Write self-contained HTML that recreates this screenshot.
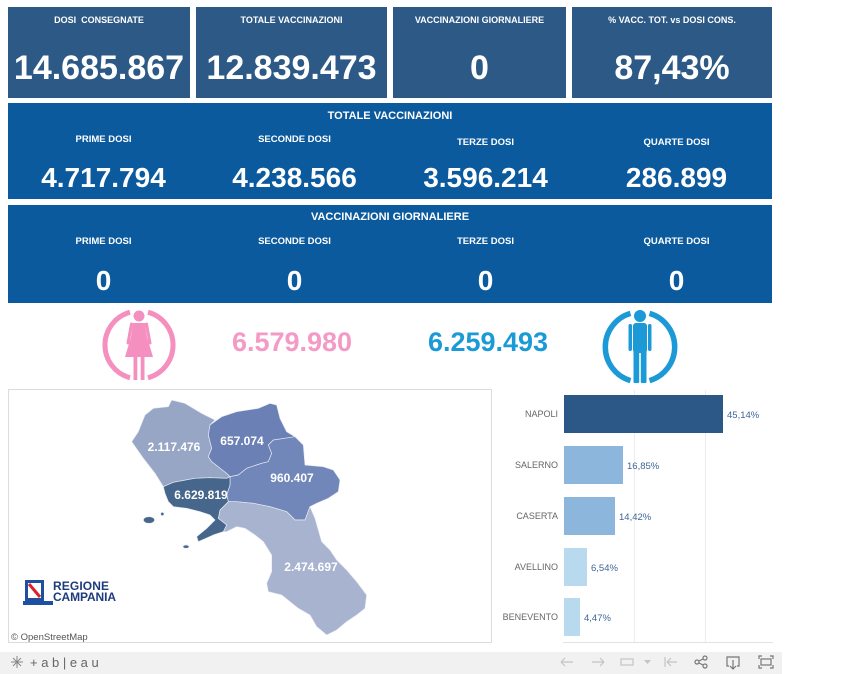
<!DOCTYPE html>
<html><head><meta charset="utf-8">
<style>
*{margin:0;padding:0;box-sizing:border-box}
body{width:845px;height:674px;background:#fff;position:relative;overflow:hidden;font-family:"Liberation Sans",Arial,sans-serif}
.t{position:absolute;background:#2d5987}
.s{position:absolute;background:#0c5a9e}
.tx{position:absolute;color:#fff;font-weight:bold;text-align:center;white-space:nowrap}
svg{position:absolute;left:0;top:0}
</style></head><body>

<div class="t" style="left:8px;top:7px;width:182px;height:91px"></div>
<div class="t" style="left:196px;top:7px;width:191px;height:91px"></div>
<div class="t" style="left:393px;top:7px;width:173px;height:91px"></div>
<div class="t" style="left:572px;top:7px;width:200px;height:91px"></div>

<div class="tx" style="left:8px;width:182px;top:14px;line-height:13px;font-size:9px">DOSI&nbsp;&nbsp;CONSEGNATE</div>
<div class="tx" style="left:196px;width:191px;top:14px;line-height:13px;font-size:9px">TOTALE VACCINAZIONI</div>
<div class="tx" style="left:393px;width:173px;top:14px;line-height:13px;font-size:9px">VACCINAZIONI GIORNALIERE</div>
<div class="tx" style="left:572px;width:200px;top:14px;line-height:13px;font-size:9px">% VACC. TOT. vs DOSI CONS.</div>

<div class="tx" style="left:0px;width:198px;top:48px;line-height:40px;font-size:34px">14.685.867</div>
<div class="tx" style="left:196px;width:191px;top:48px;line-height:40px;font-size:34px">12.839.473</div>
<div class="tx" style="left:393px;width:173px;top:48px;line-height:40px;font-size:34px">0</div>
<div class="tx" style="left:572px;width:200px;top:48px;line-height:40px;font-size:34px">87,43%</div>

<div class="s" style="left:8px;top:103px;width:764px;height:96px"></div>
<div class="tx" style="left:8px;width:764px;top:109px;line-height:14px;font-size:11px">TOTALE VACCINAZIONI</div>
<div class="tx" style="left:8px;width:191px;top:133px;line-height:14px;font-size:9.5px">PRIME DOSI</div>
<div class="tx" style="left:199px;width:191px;top:133px;line-height:14px;font-size:9.5px">SECONDE DOSI</div>
<div class="tx" style="left:390px;width:191px;top:136px;line-height:14px;font-size:9.5px">TERZE DOSI</div>
<div class="tx" style="left:581px;width:191px;top:136px;line-height:14px;font-size:9.5px">QUARTE DOSI</div>
<div class="tx" style="left:8px;width:191px;top:161px;line-height:34px;font-size:28px">4.717.794</div>
<div class="tx" style="left:199px;width:191px;top:161px;line-height:34px;font-size:28px">4.238.566</div>
<div class="tx" style="left:390px;width:191px;top:161px;line-height:34px;font-size:28px">3.596.214</div>
<div class="tx" style="left:581px;width:191px;top:161px;line-height:34px;font-size:28px">286.899</div>

<div class="s" style="left:8px;top:205px;width:764px;height:98px"></div>
<div class="tx" style="left:8px;width:764px;top:210px;line-height:14px;font-size:11px">VACCINAZIONI GIORNALIERE</div>
<div class="tx" style="left:8px;width:191px;top:235px;line-height:14px;font-size:9.5px">PRIME DOSI</div>
<div class="tx" style="left:199px;width:191px;top:235px;line-height:14px;font-size:9.5px">SECONDE DOSI</div>
<div class="tx" style="left:390px;width:191px;top:235px;line-height:14px;font-size:9.5px">TERZE DOSI</div>
<div class="tx" style="left:581px;width:191px;top:235px;line-height:14px;font-size:9.5px">QUARTE DOSI</div>
<div class="tx" style="left:8px;width:191px;top:264px;line-height:34px;font-size:28px">0</div>
<div class="tx" style="left:199px;width:191px;top:264px;line-height:34px;font-size:28px">0</div>
<div class="tx" style="left:390px;width:191px;top:264px;line-height:34px;font-size:28px">0</div>
<div class="tx" style="left:581px;width:191px;top:264px;line-height:34px;font-size:28px">0</div>

<div class="tx" style="left:192px;width:200px;top:326px;line-height:32px;font-size:27px;color:#f49ac6">6.579.980</div>
<div class="tx" style="left:388px;width:200px;top:326px;line-height:32px;font-size:27px;color:#1a9ad6">6.259.493</div>

<svg width="845" height="674" viewBox="0 0 845 674" xmlns="http://www.w3.org/2000/svg">
  <!-- female icon -->
  <g transform="translate(139,345)" fill="#f48fc0">
    <path d="M-9,-32.8 A34,34 0 0 0 -9,32.8" fill="none" stroke="#f48fc0" stroke-width="5"/>
    <path d="M9,-32.8 A34,34 0 0 1 9,32.8" fill="none" stroke="#f48fc0" stroke-width="5"/>
    <circle cx="0" cy="-29" r="5.5"/>
    <path d="M-6,-22 L6,-22 L8,-8 L14,12 L-14,12 L-8,-8 Z"/>
    <path d="M-7.5,-21 L-11,-2" stroke="#f48fc0" stroke-width="3" stroke-linecap="round"/>
    <path d="M7.5,-21 L11,-2" stroke="#f48fc0" stroke-width="3" stroke-linecap="round"/>
    <rect x="-5.5" y="11" width="3.8" height="24"/>
    <rect x="1.7" y="11" width="3.8" height="24"/>
  </g>
  <!-- male icon -->
  <g transform="translate(640,347)" fill="#1b9ad7">
    <path d="M-9.5,-33.6 A35,35 0 0 0 -9.5,33.6" fill="none" stroke="#1b9ad7" stroke-width="5.5"/>
    <path d="M9.5,-33.6 A35,35 0 0 1 9.5,33.6" fill="none" stroke="#1b9ad7" stroke-width="5.5"/>
    <circle cx="0" cy="-31" r="6"/>
    <rect x="-7" y="-24" width="14" height="30" rx="3"/>
    <rect x="-11.5" y="-23" width="3.5" height="27" rx="1.7"/>
    <rect x="8" y="-23" width="3.5" height="27" rx="1.7"/>
    <rect x="-6.5" y="4" width="5.7" height="32" rx="1"/>
    <rect x="0.8" y="4" width="5.7" height="32" rx="1"/>
  </g>

  <!-- map panel -->
  <rect x="8.5" y="389.5" width="483" height="253" fill="#fff" stroke="#dcdcdc"/>
  <g transform="translate(130,395) scale(0.33333)" stroke="#e8ecf3" stroke-width="2" stroke-linejoin="round">
    <polygon fill="#98a6c6" points="45,60 70,40 115,35 125,15 165,25 215,55 255,75 240,90 235,120 245,160 235,185 245,200 290,235 300,245 290,250 240,248 195,250 130,262 100,275 75,235 40,190 5,140 25,110"/>
    <polygon fill="#6b80b5" points="240,90 275,65 320,50 385,40 420,25 440,30 450,70 470,110 495,125 470,135 430,135 415,150 425,175 415,200 395,205 350,220 325,240 300,245 290,235 245,200 235,185 245,160 235,120"/>
    <polygon fill="#7186b9" points="430,135 495,125 520,150 525,210 580,215 610,225 630,255 625,290 595,310 560,325 540,335 525,375 495,375 470,350 420,335 370,325 320,320 295,320 290,300 300,270 300,245 325,240 350,220 395,205 415,200 425,175 415,150"/>
    <polygon fill="#a8b3d0" points="295,320 320,320 370,325 420,335 470,350 495,375 525,375 540,335 555,370 575,440 600,465 620,495 650,525 680,560 710,600 705,640 680,660 650,680 620,705 590,720 560,695 540,660 505,640 455,600 415,590 410,565 425,530 425,480 400,440 375,420 345,400 320,395 290,410 280,410 290,390 265,370 270,345 285,330"/>
    <polygon fill="#46668c" points="100,275 130,262 195,250 240,248 290,250 300,245 300,270 290,300 295,320 285,330 270,345 265,370 290,390 280,410 250,420 205,440 200,425 230,400 255,375 240,360 210,350 170,340 130,335 115,320 105,295"/>
    <ellipse cx="57" cy="375" rx="17" ry="10" fill="#46668c"/>
    <circle cx="97" cy="357" r="5" fill="#46668c"/>
    <ellipse cx="168" cy="455" rx="9" ry="5" fill="#46668c"/>
  </g>
  <g font-family="Liberation Sans, Arial, sans-serif" font-weight="bold" font-size="12" fill="#fff" text-anchor="middle">
    <text x="174" y="451">2.117.476</text>
    <text x="242" y="445">657.074</text>
    <text x="292" y="482">960.407</text>
    <text x="201" y="499">6.629.819</text>
    <text x="311" y="571">2.474.697</text>
  </g>
  <!-- logo -->
  <rect x="25" y="580" width="19" height="21" fill="#1f4fa0"/>
  <rect x="28" y="583" width="13" height="15" fill="#fff"/>
  <path d="M29,584 L40,597" stroke="#d8232a" stroke-width="3"/>
  <rect x="23" y="601" width="30" height="4" fill="#1f4fa0"/>
  <g font-family="Liberation Sans, Arial, sans-serif" font-weight="bold" font-size="12" fill="#1e3c7d">
    <text x="53" y="590" textLength="56">REGIONE</text>
    <text x="53" y="601" textLength="63">CAMPANIA</text>
  </g>
  <text x="11" y="640" font-family="Liberation Sans, Arial, sans-serif" font-size="9.5" fill="#555">© OpenStreetMap</text>

  <!-- bar chart -->
  <line x1="634.5" y1="390" x2="634.5" y2="642" stroke="#ececec"/>
  <line x1="705.5" y1="390" x2="705.5" y2="642" stroke="#ececec"/>
  <line x1="563" y1="642.5" x2="773" y2="642.5" stroke="#e2e2e2"/>
  <rect x="564" y="395" width="159" height="38" fill="#2c5887"/>
  <rect x="564" y="446" width="59" height="38" fill="#8cb6dc"/>
  <rect x="564" y="497" width="51" height="38" fill="#8cb6dc"/>
  <rect x="564" y="548" width="23" height="38" fill="#b9d9ef"/>
  <rect x="564" y="598" width="16" height="38" fill="#b9d9ef"/>
  <g font-family="Liberation Sans, Arial, sans-serif" font-size="9" fill="#666" text-anchor="end">
    <text x="558" y="417">NAPOLI</text>
    <text x="558" y="468">SALERNO</text>
    <text x="558" y="519">CASERTA</text>
    <text x="558" y="570">AVELLINO</text>
    <text x="558" y="620">BENEVENTO</text>
  </g>
  <g font-family="Liberation Sans, Arial, sans-serif" font-size="9.5" fill="#3d6597">
    <text x="727" y="418">45,14%</text>
    <text x="627" y="469">16,85%</text>
    <text x="619" y="520">14,42%</text>
    <text x="591" y="571">6,54%</text>
    <text x="584" y="621">4,47%</text>
  </g>

  <!-- toolbar -->
  <rect x="0" y="652" width="782" height="22" fill="#f1f1f1"/>
  <g transform="translate(17,662)" stroke="#888" stroke-width="1" fill="none">
    <line x1="-6" y1="0" x2="6" y2="0"/><line x1="0" y1="-6" x2="0" y2="6"/>
    <line x1="-4" y1="-4" x2="4" y2="4"/><line x1="-4" y1="4" x2="4" y2="-4"/>
  </g>
  <text x="30" y="667" font-family="Liberation Sans, Arial, sans-serif" font-size="13" fill="#666" letter-spacing="3.6">+ab|eau</text>
  <g stroke="#c4c4c4" stroke-width="1.2" fill="none">
    <path d="M561,662 L573,662 M561,662 L565,658 M561,662 L565,666"/>
    <path d="M592,662 L604,662 M604,662 L600,658 M604,662 L600,666"/>
    <rect x="621" y="659" width="12" height="6"/>
    <path d="M665,657 L665,667 M667,662 L677,662 M667,662 L671,658 M667,662 L671,666"/>
  </g>
  <path d="M644,660 L651,660 L647.5,664 Z" fill="#c4c4c4"/>
  <g stroke="#777" stroke-width="1.2" fill="none">
    <circle cx="697" cy="662" r="2"/><circle cx="705" cy="658" r="2"/><circle cx="705" cy="666" r="2"/>
    <path d="M699,661 L703,659 M699,663 L703,665"/>
    <path d="M729,666 L727,666 L727,657 L739,657 L739,666 L737,666 M733,660 L733,669 M730,666 L733,669 L736,666"/>
    <path d="M759,659 L759,656 L762,656 M770,656 L773,656 L773,659 M773,665 L773,668 L770,668 M762,668 L759,668 L759,665"/>
    <rect x="761" y="659" width="10" height="6"/>
  </g>
</svg>
</body></html>
